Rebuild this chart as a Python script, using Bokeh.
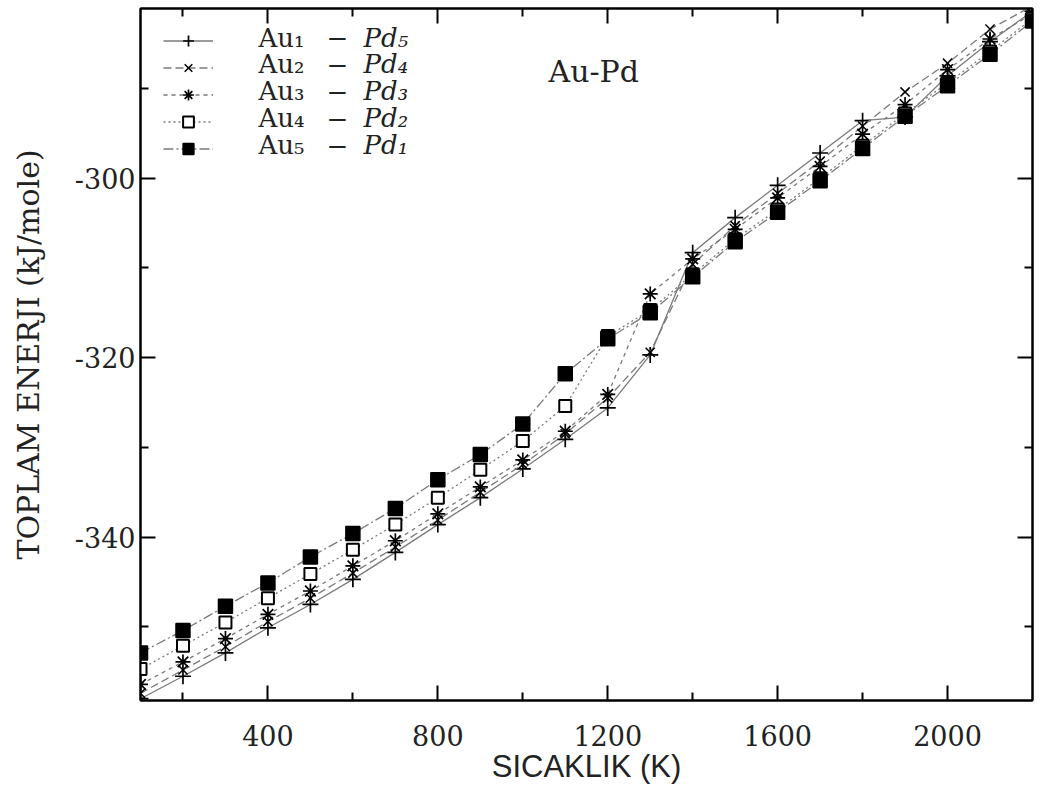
from bokeh.plotting import figure
from bokeh.models import (Range1d, FixedTicker, LinearAxis, Legend, LegendItem,
                          Label, CustomJSTickFormatter, ColumnDataSource)
from bokeh.embed import file_html
from bokeh.resources import INLINE

# ---------------- data ----------------
temperature_k = [100, 200, 300, 400, 500, 600, 700, 800, 900, 1000, 1100,
                 1200, 1300, 1400, 1500, 1600, 1700, 1800, 1900, 2000, 2100, 2200]

au1_pd5 = [-358.0, -355.5, -352.9, -350.1, -347.5, -344.7, -341.7, -338.6, -335.6, -332.4, -329.1,
           -325.6, -319.7, -308.3, -304.4, -300.8, -297.2, -293.6, -293.2, -288.6, -284.8, -281.4]
au2_pd4 = [-357.4, -354.8, -352.2, -349.4, -346.8, -344.0, -341.1, -338.1, -335.0, -331.9, -328.5,
           -324.5, -319.4, -309.6, -305.3, -301.7, -298.1, -294.2, -290.4, -287.2, -283.4, -280.8]
au3_pd3 = [-356.4, -353.9, -351.3, -348.6, -346.0, -343.2, -340.4, -337.4, -334.4, -331.4, -328.2,
           -324.1, -312.9, -309.0, -305.7, -302.2, -298.7, -295.1, -291.8, -287.9, -284.5, -281.7]
au4_pd2 = [-354.7, -352.1, -349.5, -346.8, -344.1, -341.4, -338.6, -335.6, -332.5, -329.3, -325.4,
           -317.6, -314.7, -310.7, -306.8, -303.5, -300.0, -296.4, -292.8, -289.4, -285.9, -282.2]
au5_pd1 = [-352.9, -350.4, -347.7, -345.1, -342.2, -339.6, -336.8, -333.6, -330.8, -327.4, -321.8,
           -317.9, -315.0, -311.0, -307.1, -303.8, -300.3, -296.7, -293.1, -289.7, -286.2, -282.5]

legend_au = ["Au\u2081", "Au\u2082", "Au\u2083", "Au\u2084", "Au\u2085"]
legend_pd = ["Pd\u2085", "Pd\u2084", "Pd\u2083", "Pd\u2082", "Pd\u2081"]

x_major = [400, 800, 1200, 1600, 2000]
x_minor = [200, 600, 1000, 1400, 1800]
y_major = [-340, -320, -300]
y_minor = [-350, -330, -310, -290]

x_title = "SICAKLIK (K)"
y_title = "TOPLAM ENERJI (kJ/mole)"
plot_title = "Au-Pd"

# ---------------- figure ----------------
W, H = 1036, 794
p = figure(width=W, height=H, output_backend="svg", toolbar_location=None,
           x_range=Range1d(100, 2200), y_range=Range1d(-358.2, -281.1),
           min_border_left=140, min_border_right=4, min_border_top=8, min_border_bottom=94,
           background_fill_color="white", border_fill_color="white")
p.xgrid.visible = False
p.ygrid.visible = False
p.outline_line_color = "black"
p.outline_line_width = 2

serif = "DejaVu Serif"

def style_axis(ax, show_labels):
    ax.axis_line_width = 2
    ax.axis_line_color = "black"
    ax.major_tick_in = 15
    ax.major_tick_out = 0
    ax.minor_tick_in = 8
    ax.minor_tick_out = 0
    ax.major_tick_line_width = 2
    ax.minor_tick_line_width = 2
    ax.major_tick_line_color = "black"
    ax.minor_tick_line_color = "black"
    if show_labels:
        ax.major_label_text_font = serif
        ax.major_label_text_font_size = "27px"
        ax.major_label_text_color = "#222222"
    else:
        ax.formatter = CustomJSTickFormatter(code="return ''")
        ax.major_label_text_font_size = "0px"
        ax.major_label_standoff = 0
        ax.axis_label_standoff = 0

p.xaxis[0].ticker = FixedTicker(ticks=x_major, minor_ticks=x_minor)
p.yaxis[0].ticker = FixedTicker(ticks=y_major, minor_ticks=y_minor)
style_axis(p.xaxis[0], True)
style_axis(p.yaxis[0], True)
p.xaxis[0].major_label_standoff = 24
p.yaxis[0].major_label_standoff = 5
p.yaxis[0].major_label_overrides = {v: str(v) for v in y_major}

p.xaxis[0].axis_label = x_title
p.xaxis[0].axis_label_text_font = "Liberation Sans Narrow, Liberation Sans"
p.xaxis[0].axis_label_text_font_size = "31px"
p.xaxis[0].axis_label_text_font_style = "normal"
p.xaxis[0].axis_label_text_color = "#222222"
p.xaxis[0].axis_label_standoff = 0

p.yaxis[0].axis_label = y_title
p.yaxis[0].axis_label_text_font = serif
p.yaxis[0].axis_label_text_font_size = "30px"
p.yaxis[0].axis_label_text_font_style = "normal"
p.yaxis[0].axis_label_text_color = "#222222"
p.yaxis[0].axis_label_standoff = 26

top_ax = LinearAxis(ticker=FixedTicker(ticks=x_major, minor_ticks=x_minor))
right_ax = LinearAxis(ticker=FixedTicker(ticks=y_major, minor_ticks=y_minor))
style_axis(top_ax, False)
style_axis(right_ax, False)
p.add_layout(top_ax, "above")
p.add_layout(right_ax, "right")

# ---------------- series ----------------
src = ColumnDataSource(dict(t=temperature_k, s1=au1_pd5, s2=au2_pd4, s3=au3_pd3,
                            s4=au4_pd2, s5=au5_pd1))
line_col = "#7a7a7a"
styles = [
    dict(col="s1", dash="solid", marker="cross", size=16, fill="black", lw=1.7),
    dict(col="s2", dash="8 4", marker="x", size=13, fill="black", lw=1.5),
    dict(col="s3", dash="4 4", marker="asterisk", size=15, fill="black", lw=1.7),
    dict(col="s4", dash="2 3", marker="square", size=12, fill="white", lw=2),
    dict(col="s5", dash="10 3 2 3", marker="square", size=14, fill="black", lw=1.5),
]
items = []
for st in styles:
    lr = p.line("t", st["col"], source=src, line_color=line_col, line_width=1.3,
                line_dash=st["dash"])
    sr = p.scatter("t", st["col"], source=src, marker=st["marker"], size=st["size"],
                   line_color="black", fill_color=st["fill"], line_width=st["lw"])
    items.append(LegendItem(label=" ", renderers=[lr, sr]))

legend = Legend(items=items, location=(23, 538), padding=0, margin=0, spacing=0,
                glyph_width=50, glyph_height=27, label_height=27, label_standoff=0,
                label_text_font_size="6px", border_line_color=None,
                background_fill_alpha=0)
p.add_layout(legend)

# legend texts (screen units relative to plot frame)
for i in range(5):
    yb = 663 - 26.9 * i
    p.add_layout(Label(x=118, y=yb, x_units="screen", y_units="screen", text=legend_au[i],
                       text_font=serif, text_font_size="26px", text_color="#222222",
                       text_baseline="alphabetic", text_align="left"))
    p.add_layout(Label(x=197, y=yb, x_units="screen", y_units="screen", text="\u2212",
                       text_font=serif, text_font_size="26px", text_color="#222222",
                       text_baseline="alphabetic", text_align="center"))
    p.add_layout(Label(x=223, y=yb, x_units="screen", y_units="screen", text=legend_pd[i],
                       text_font=serif, text_font_style="italic", text_font_size="26px",
                       text_color="#222222", text_baseline="alphabetic", text_align="left"))

p.add_layout(Label(x=408, y=629, x_units="screen", y_units="screen", text=plot_title,
                   text_font=serif, text_font_size="30px", text_color="#222222",
                   text_baseline="alphabetic", text_align="left"))

open("out.html", "w").write(file_html(p, INLINE))
